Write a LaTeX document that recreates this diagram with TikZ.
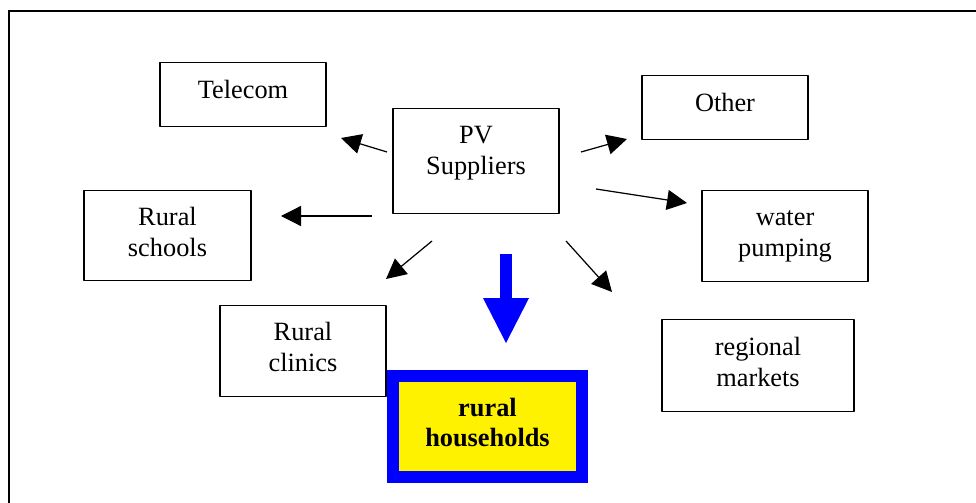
\documentclass[tikz,border=0pt]{standalone}
\usepackage{fontspec}
\setmainfont{Liberation Serif}
\usetikzlibrary{arrows.meta}

\begin{document}
\begin{tikzpicture}[x=0.02cm, y=-0.02cm, line join=round,
  bx/.style={draw, line width=0.7pt, inner sep=0pt, anchor=north, align=center,
    minimum width=3.32cm, text height=1.32cm, text depth=0.5cm,
    font=\fontsize{15}{17.6}\selectfont},
  arr/.style={line width=0.7pt, -{Triangle[length=0.4cm,width=0.4cm]}}]
\useasboundingbox (0,0) rectangle (976,503);

% outer frame
\draw[line width=1pt, line join=miter] (9,503) -- (9,11) -- (976,11);

\node[bx, text height=0.72cm, text depth=0.56cm] (tel) at (243,62) {Telecom};
\node[bx, text height=0.72cm, text depth=0.56cm] (oth) at (725,75) {Other};
\node[bx, minimum width=3.34cm, text depth=0.48cm] (sch) at (167.5,190) {Rural\\schools};
\node[bx] (wat) at (785,190) {water\\pumping};
\node[bx, minimum width=3.84cm, text height=1.34cm] (mkt) at (758,319) {regional\\markets};
\node[bx] (cli) at (303,305) {Rural\\clinics};
\node[bx, text depth=0.78cm] (pv) at (476,108) {PV\\Suppliers};
\node[bx, draw=blue, fill=yellow, line width=0.24cm, line join=miter, minimum width=3.78cm,
  text height=1.42cm, text depth=0.6cm,
  font=\fontsize{15}{17.6}\selectfont\bfseries] (hh) at (487.5,370) {rural\\households};

\coordinate (pvTel) at (387,152);
\coordinate (toTel) at (341,138);
\coordinate (pvSch) at (372,216);
\coordinate (toSch) at (281,216);
\coordinate (pvCli) at (432,241);
\coordinate (toCli) at (386,279);
\coordinate (pvOth) at (581,152);
\coordinate (toOth) at (627,139);
\coordinate (pvWat) at (596,189);
\coordinate (toWat) at (687,203);
\coordinate (pvMkt) at (566,241);
\coordinate (toMkt) at (612,292);
\coordinate (pvHh) at (506,254);
\coordinate (toHh) at (506,343);

\draw[arr] (pvTel) -- (toTel);
\draw[arr] (pvSch) -- (toSch);
\draw[arr] (pvCli) -- (toCli);
\draw[arr] (pvOth) -- (toOth);
\draw[arr] (pvWat) -- (toWat);
\draw[arr] (pvMkt) -- (toMkt);

\draw[blue, line width=0.24cm, -{Triangle[length=0.9cm,width=0.92cm,line width=0pt]}] (pvHh) -- (toHh);
\end{tikzpicture}
\end{document}
